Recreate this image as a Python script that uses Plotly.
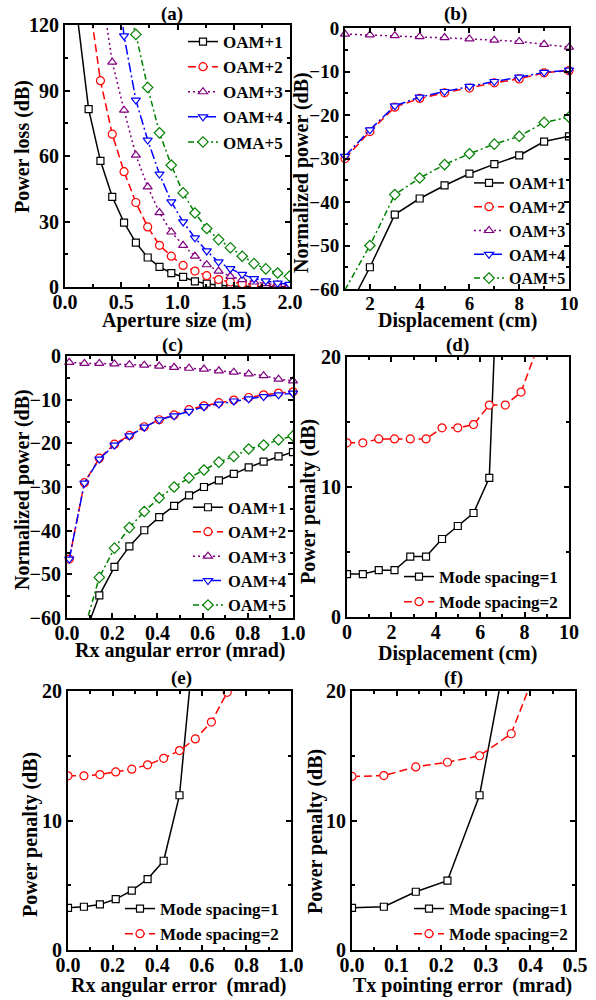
import plotly.graph_objects as go

# ---------------- data ----------------
# (a) power loss vs aperture size
xa = [0.105, 0.21, 0.315, 0.42, 0.525, 0.63, 0.735, 0.84, 0.945, 1.05, 1.155,
      1.26, 1.365, 1.47, 1.575, 1.68, 1.785, 1.89, 1.995]
a_oam1 = [126, 81.5, 57.8, 41.3, 29.5, 20.3, 13.5, 9.2, 6.4, 4.6, 2.6, 1.5, 0.8,
          0.5, 0.3, 0.2, 0.1, 0.1, 0.1]
a_oam2 = [133, 94.5, 70, 52.8, 38.7, 27.5, 19.1, 14.1, 9.9, 7.3, 5.2, 3.4, 2.3,
          1.5, 1.0, 0.7, 0.5, 0.3]
a_oam3 = [139, 103, 81, 60.4, 45.9, 34.1, 25.2, 19.1, 14.1, 10.2, 7.3, 4.9, 3.4,
          2.3, 1.5, 1.0, 0.8]
a_oam4 = [160, 115, 85.6, 67.3, 51.7, 39, 29.8, 22.5, 16.5, 11.5, 8.4, 5.8, 3.8,
          2.8, 1.8, 1.2]
a_oam5 = [135, 115.7, 91.4, 70.6, 55.8, 43.1, 33.9, 26.8, 21.7, 18, 14.1, 10.7,
          8.3, 6.4, 4.9]

# (b) normalized power vs displacement
xb = [1, 2, 3, 4, 5, 6, 7, 8, 9, 10]
b_oam1 = [-66, -55.0, -42.9, -39.2, -36.2, -33.5, -31.3, -29.3, -26.1, -24.9]
b_oam2 = [-30.0, -23.8, -18.2, -16.2, -14.9, -13.8, -12.6, -11.7, -10.3, -9.8]
b_oam3 = [-1.4, -1.6, -1.76, -2.0, -2.2, -2.5, -2.8, -3.1, -3.75, -4.4]
b_oam4 = [-29.5, -23.4, -17.9, -15.9, -14.6, -13.4, -12.3, -11.3, -10.2, -9.7]
b_oam5 = [-60.2, -50.0, -38.3, -34.5, -31.4, -28.9, -26.7, -24.9, -21.7, -20.5]

# (c) normalized power vs Rx angular error
xc = [0.01, 0.077, 0.143, 0.21, 0.276, 0.342, 0.408, 0.474, 0.54, 0.606,
      0.672, 0.738, 0.804, 0.87, 0.936, 1.0]
c_oam1 = [-64, -54.8, -48.3, -43.6, -39.9, -36.9, -34.3, -31.9, -30.0, -28.5,
          -27.0, -25.5, -24.2, -23.0, -22.0]
c_oam2 = [-46.5, -29.0, -23.4, -20.2, -18.2, -16.2, -14.6, -13.5, -12.3, -11.4,
          -10.7, -10.1, -9.5, -8.9, -8.5, -8.2]
c_oam3 = [-1.45, -1.7, -1.7, -1.8, -2.0, -2.1, -2.3, -2.6, -2.8, -3.0, -3.4,
          -3.7, -4.1, -4.5, -5.3, -5.7]
c_oam4 = [-46.5, -29.1, -23.6, -20.4, -18.3, -16.3, -14.6, -13.7, -12.7, -11.6,
          -11.0, -10.3, -9.8, -9.3, -8.9, -8.5]
c_oam5 = [-62.5, -50.7, -44.0, -39.3, -35.6, -32.5, -30.0, -27.9, -26.1, -24.3,
          -23.0, -21.3, -20.4, -19.2, -18.3]

# (d) power penalty vs displacement
xd = [0, 0.713, 1.43, 2.14, 2.85, 3.56, 4.28, 4.99, 5.7, 6.41, 7.13, 7.84, 8.55]
d_ms1 = [3.3, 3.3, 3.6, 3.6, 4.65, 4.65, 6.0, 7.0, 8.0, 10.7, 42]
d_ms2 = [13.4, 13.4, 13.7, 13.7, 13.7, 13.7, 14.55, 14.55, 14.8, 16.3, 16.3,
         17.3, 20.6]

# (e) power penalty vs Rx angular error
xe = [0, 0.0714, 0.143, 0.214, 0.286, 0.357, 0.429, 0.5, 0.571, 0.643, 0.714]
e_ms1 = [3.26, 3.34, 3.52, 3.93, 4.58, 5.48, 6.89, 11.95, 24.8]
e_ms2 = [13.45, 13.45, 13.55, 13.75, 13.96, 14.3, 14.8, 15.4, 16.3, 17.6, 19.9]

# (f) power penalty vs Tx pointing error
xf = [0, 0.0714, 0.143, 0.214, 0.286, 0.357, 0.428]
f_ms1 = [3.26, 3.34, 4.5, 5.35, 11.95, 25]
f_ms2 = [13.4, 13.47, 14.14, 14.5, 15.0, 16.7, 23]

oam_names = ["OAM+1", "OAM+2", "OAM+3", "OAM+4", "OAM+5"]
oam_names_a = ["OAM+1", "OAM+2", "OAM+3", "OAM+4", "OMA+5"]
ms_names = ["Mode spacing=1", "Mode spacing=2"]

# ---------------- styles ----------------
FONT = "Liberation Serif"
colors = ["#000000", "#FF0000", "#800080", "#0000FF", "#008000"]
dashes = ["solid", "8px,4px", "2px,3px", "10px,3px,2px,3px", "6px,3px,2px,3px"]
symbols = ["square", "circle", "triangle-up", "triangle-down", "diamond"]
msizes = [7, 8, 8, 8, 8]

W, H = 596, 1000
fig = go.Figure()


def add(xs, ys, i, name, ax, leg, clip=True):
    fig.add_trace(go.Scatter(
        x=xs[:len(ys)], y=ys, name=name,
        mode="lines+markers",
        line=dict(color=colors[i], width=1.5, dash=dashes[i]),
        marker=dict(symbol=symbols[i], size=msizes[i], color="white",
                    line=dict(color=colors[i], width=1.2)),
        xaxis="x" + ax, yaxis="y" + ax, legend=leg, cliponaxis=clip,
    ))


# (a)
add(xa, a_oam1, 0, oam_names_a[0], "", "legend")
add(xa[1:], a_oam2, 1, oam_names_a[1], "", "legend")
add(xa[2:], a_oam3, 2, oam_names_a[2], "", "legend")
add(xa[3:], a_oam4, 3, oam_names_a[3], "", "legend")
add(xa[4:], a_oam5, 4, oam_names_a[4], "", "legend")
# (b)
b_series = [b_oam1, b_oam2, b_oam3, b_oam4, b_oam5]
for i, s in enumerate(b_series):
    add(xb, s, i, oam_names[i], "2", "legend2", clip=(i in (0, 4)))
# (c)
add(xc[1:], c_oam1, 0, oam_names[0], "3", "legend3")
add(xc, c_oam2, 1, oam_names[1], "3", "legend3", clip=False)
add(xc, c_oam3, 2, oam_names[2], "3", "legend3", clip=False)
add(xc, c_oam4, 3, oam_names[3], "3", "legend3", clip=False)
add(xc[1:], c_oam5, 4, oam_names[4], "3", "legend3")
# (d)
add(xd, d_ms1, 0, ms_names[0], "4", "legend4")
add(xd, d_ms2, 1, ms_names[1], "4", "legend4")
# (e)
add(xe, e_ms1, 0, ms_names[0], "5", "legend5")
add(xe, e_ms2, 1, ms_names[1], "5", "legend5")
# (f)
add(xf, f_ms1, 0, ms_names[0], "6", "legend6")
add(xf, f_ms2, 1, ms_names[1], "6", "legend6")

# ---------------- layout ----------------


def fx(px):
    return px / W


def fy(py):
    return 1 - py / H


def axis(domain, rng, dtick, minor, anchor, fs, fmt=None, standoff=0):
    d = dict(domain=domain, range=rng, dtick=dtick, tick0=0, anchor=anchor,
             showline=True, linecolor="black", linewidth=2, mirror="allticks",
             ticks="inside", ticklen=5, tickwidth=1.5, tickcolor="black",
             showgrid=False, zeroline=False, automargin=False,
             tickfont=dict(family=FONT, size=fs, color="black", weight="bold"),
             ticklabelstandoff=standoff,
             minor=dict(dtick=minor, ticks="inside", ticklen=3, tickwidth=1.5,
                        tickcolor="black", showgrid=False))
    if fmt:
        d["tickformat"] = fmt
    return d


def px_x(a, b):
    return [fx(a), fx(b)]


def px_y(top, bot):
    return [fy(bot), fy(top)]


panels = [
    # x-domain, y-domain, xrange, xdtick, xminor, xfmt, yrange, ydtick, yminor, fs
    (px_x(65, 290), px_y(25, 287), [0, 2], 0.5, 0.25, ".1f", [0, 120], 30, 15, 20),
    (px_x(345, 569), px_y(28, 289), [1, 10], 2, 1, None, [-60, 0], 10, 5, 19),
    (px_x(67, 293), px_y(356, 618), [0, 1], 0.2, 0.1, ".1f", [-60, 0], 10, 5, 20),
    (px_x(347, 569), px_y(357, 617), [0, 10], 2, 1, None, [0, 20], 10, 5, 20),
    (px_x(68, 291), px_y(691, 950), [0, 1], 0.2, 0.1, ".1f", [0, 20], 10, 5, 20),
    (px_x(352, 575), px_y(691, 950), [0, 0.5], 0.1, 0.05, ".1f", [0, 20], 10, 5, 20),
]

layout = dict(width=W, height=H,
              margin=dict(l=0, r=0, t=0, b=0, pad=0, autoexpand=False),
              paper_bgcolor="white", plot_bgcolor="white",
              font=dict(family=FONT, color="black"), showlegend=True)

for k, (xd_, yd_, xr, xdt, xmn, xfmt, yr, ydt, ymn, fs) in enumerate(panels):
    suf = "" if k == 0 else str(k + 1)
    layout["xaxis" + suf] = axis(xd_, xr, xdt, xmn, "y" + suf, fs, xfmt,
                                 standoff=-4)
    layout["yaxis" + suf] = axis(yd_, yr, ydt, ymn, "x" + suf, fs)


def leg(x, y, xa_, ya_, fs):
    return dict(x=fx(x), y=fy(y), xanchor=xa_, yanchor=ya_, xref="paper",
                yref="paper", bgcolor="rgba(0,0,0,0)", tracegroupgap=0,
                itemwidth=30,
                font=dict(family=FONT, size=fs, color="black", weight="bold"))


layout["legend"] = leg(289, 24, "right", "top", 17)
layout["legend2"] = leg(571, 295, "right", "bottom", 16)
layout["legend3"] = leg(291, 623, "right", "bottom", 16.5)
layout["legend4"] = leg(563, 620, "right", "bottom", 17)
layout["legend5"] = leg(284, 952, "right", "bottom", 17)
layout["legend6"] = leg(573, 952, "right", "bottom", 17)

annfont = dict(family=FONT, size=20, color="black", weight="bold")
titfont = dict(family=FONT, size=19, color="black", weight="bold")
texts = [
    # text, x px, y px, angle, font
    ("(a)", 172, 14, 0, titfont), ("(b)", 455, 14, 0, titfont),
    ("(c)", 172, 345, 0, titfont), ("(d)", 458, 345, 0, titfont),
    ("(e)", 181, 678, 0, titfont), ("(f)", 453, 678, 0, titfont),
    ("Aperture size (m)", 177, 321, 0, annfont),
    ("Displacement (cm)", 457, 321, 0, annfont),
    ("Rx angular error (mrad)", 180, 650, 0, annfont),
    ("Displacement (cm)", 457, 653, 0, annfont),
    ("Rx angular error  (mrad)", 179, 985, 0, annfont),
    ("Tx pointing error  (mrad)", 462, 985, 0, annfont),
    ("Power loss (dB)", 22, 147, -90, annfont),
    ("Normalized power (dB)", 301, 173, -90, annfont),
    ("Normalized power (dB)", 22, 490, -90, annfont),
    ("Power penalty (dB)", 308, 502, -90, annfont),
    ("Power penalty (dB)", 30, 835, -90, annfont),
    ("Power penalty (dB)", 315, 832, -90, annfont),
]
anns = []
for t, x, y, ang, f in texts:
    anns.append(dict(text=t, x=fx(x), y=fy(y), xref="paper", yref="paper",
                     xanchor="center", yanchor="middle", showarrow=False,
                     textangle=ang, font=f))
layout["annotations"] = anns

fig.update_layout(**layout)
fig.write_html("out.html")
